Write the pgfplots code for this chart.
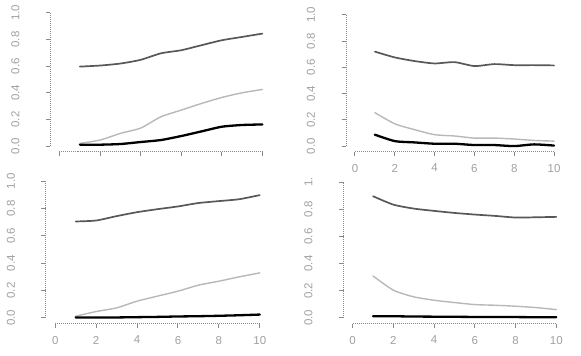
\documentclass[border=0pt]{standalone}
\usepackage{fontspec}
\setmainfont{Liberation Sans}
\usepackage{pgfplots}
\pgfplotsset{compat=1.18}
\definecolor{axgray}{HTML}{A0A0A0}
\definecolor{linegray}{HTML}{8A8A8A}
\definecolor{darkline}{HTML}{585858}
\definecolor{lightline}{HTML}{B8B8B8}
\pgfplotsset{
  rpanel/.style={
    scale only axis, anchor=south west,
    xmin=-0.45, xmax=10.45, ymin=-0.045, ymax=1.045,
    axis x line*=bottom, axis y line*=left,
    axis line style={-, draw=linegray, line width=1pt, densely dotted},
    x axis line style={shorten <=9pt, shorten >=9pt},
    y axis line style={shorten <=6.2pt, shorten >=6.2pt},
    xtick={0,2,4,6,8,10}, xticklabels={0,2,4,6,8,10},
    ytick={0,0.2,0.4,0.6,0.8,1},
    yticklabels={0.0,0.2,0.4,0.6,0.8,1.0},
    tick align=outside, major tick length=4.5pt,
    major tick style={draw=linegray, line width=1pt},
    ticklabel style={font=\fontsize{11.5}{13}\selectfont, text=axgray},
    yticklabel style={rotate=90, anchor=south, yshift=8pt},
    yticklabel shift=15pt, xticklabel shift=4pt,
    /pgf/number format/assume math mode=true,
    clip=false,
  },
  top/.style={darkline, line width=1.7pt, smooth, tension=0.4, line cap=round},
  mid/.style={lightline, line width=1.4pt, smooth, tension=0.4, line cap=round},
  low/.style={black, line width=2.3pt, smooth, tension=0.4, line cap=round},
}
\begin{document}
\begin{tikzpicture}
\path[use as bounding box] (0,0) rectangle (581pt,356pt);

% top left
\begin{axis}[rpanel, at={(50.5pt,204pt)}, width=221pt, height=145pt,
  xticklabels={,,,,,}]
\addplot[top] coordinates {(1,0.597) (2,0.605) (3,0.62) (4,0.648) (5,0.697) (6,0.72) (7,0.758) (8,0.795) (9,0.82) (10,0.845)};
\addplot[mid] coordinates {(1,0.02) (2,0.045) (3,0.095) (4,0.135) (5,0.22) (6,0.27) (7,0.32) (8,0.365) (9,0.40) (10,0.425)};
\addplot[low] coordinates {(1,0.01) (2,0.01) (3,0.015) (4,0.03) (5,0.045) (6,0.075) (7,0.11) (8,0.145) (9,0.158) (10,0.162)};
\end{axis}

% top right
\begin{axis}[rpanel, at={(346pt,204pt)}, width=217pt, height=143pt]
\addplot[top] coordinates {(1,0.72) (2,0.676) (3,0.648) (4,0.63) (5,0.64) (6,0.61) (7,0.625) (8,0.617) (9,0.617) (10,0.615)};
\addplot[mid] coordinates {(1,0.255) (2,0.17) (3,0.125) (4,0.087) (5,0.077) (6,0.061) (7,0.061) (8,0.054) (9,0.043) (10,0.038)};
\addplot[low] coordinates {(1,0.087) (2,0.038) (3,0.028) (4,0.018) (5,0.018) (6,0.008) (7,0.008) (8,0.0) (9,0.013) (10,0.004)};
\end{axis}

% bottom left
\begin{axis}[rpanel, at={(46pt,32pt)}, width=223pt, height=149pt]
\addplot[top] coordinates {(1,0.705) (2,0.712) (3,0.744) (4,0.773) (5,0.795) (6,0.815) (7,0.84) (8,0.854) (9,0.868) (10,0.898)};
\addplot[mid] coordinates {(1,0.012) (2,0.046) (3,0.073) (4,0.122) (5,0.159) (6,0.195) (7,0.239) (8,0.268) (9,0.30) (10,0.329)};
\addplot[low] coordinates {(1,0.003) (2,0.002) (3,0.003) (4,0.005) (5,0.007) (6,0.01) (7,0.012) (8,0.015) (9,0.019) (10,0.024)};
\end{axis}

% bottom right
\begin{axis}[rpanel, at={(343.5pt,32pt)}, width=222pt, height=148pt,
  yticklabels={0.0,0.2,0.4,0.6,0.8,1.}]
\addplot[top] coordinates {(1,0.896) (2,0.834) (3,0.805) (4,0.788) (5,0.773) (6,0.761) (7,0.751) (8,0.739) (9,0.741) (10,0.744)};
\addplot[mid] coordinates {(1,0.309) (2,0.204) (3,0.155) (4,0.13) (5,0.113) (6,0.098) (7,0.093) (8,0.086) (9,0.076) (10,0.061)};
\addplot[low] coordinates {(1,0.012) (2,0.012) (3,0.01) (4,0.009) (5,0.008) (6,0.007) (7,0.007) (8,0.006) (9,0.005) (10,0.005)};
\end{axis}
\end{tikzpicture}
\end{document}
